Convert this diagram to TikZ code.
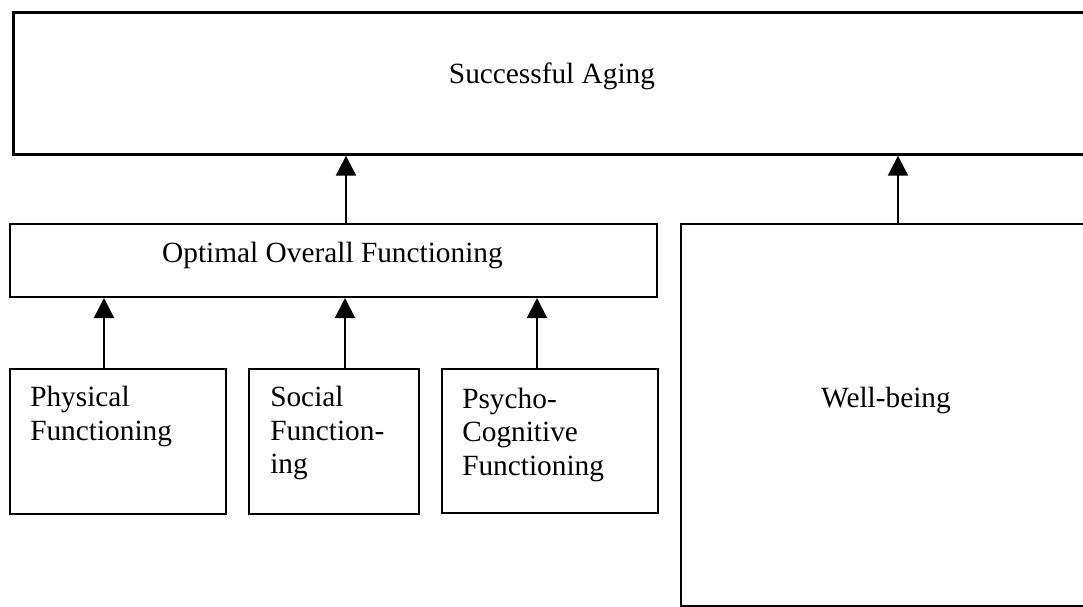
\documentclass[tikz,border=0pt]{standalone}
\usepackage{fontspec}
\setmainfont{Liberation Serif}
\usetikzlibrary{arrows.meta}
\begin{document}
\begin{tikzpicture}[x=0.75pt,y=-0.75pt,
  box/.style={draw=black,line width=1.5pt,anchor=north west,inner sep=0pt},
  bigbox/.style={box,line width=2pt},
  txt/.style={font=\fontsize{22}{25}\selectfont,inner sep=0pt},
  arr/.style={line width=1.5pt,-{Triangle[width=15pt,length=15pt]}}]
\useasboundingbox (0,0) rectangle (1083,607);
\clip (0,0) rectangle (1083,607);
% boxes
\node[bigbox,minimum width=810pt,minimum height=106.5pt] (top) at (12,11) {};
\node[box,minimum width=485.25pt,minimum height=54.75pt] (opt) at (9,223) {};
\node[box,minimum width=162pt,minimum height=108.75pt] (phys) at (9,368) {};
\node[box,minimum width=127.5pt,minimum height=108.75pt] (soc) at (248,368) {};
\node[box,minimum width=162pt,minimum height=108pt] (psy) at (441,368) {};
\node[box,minimum width=309pt,minimum height=286.5pt] (well) at (680,223) {};
% labels (multi-line labels are placed by the baseline of their last line)
\node[txt,anchor=base] (ttop) at (552,83) {Successful Aging};
\node[txt,anchor=base] (topt) at (332.5,262) {Optimal Overall Functioning};
\node[txt,anchor=base] (twell) at (886,407) {Well-being};
\node[txt,anchor=base west,align=left] (tphys) at (30,440.3) {Physical\\Functioning};
\node[txt,anchor=base west,align=left] (tsoc) at (270,473.6) {Social\\Function-\\ing};
\node[txt,anchor=base west,align=left] (tpsy) at (462,475) {Psycho-\\Cognitive\\Functioning};
% arrow columns
\coordinate (c1) at (104,0);
\coordinate (c2) at (345,0);
\coordinate (c3) at (537,0);
\coordinate (c4) at (346,0);
\coordinate (c5) at (898,0);
% connectors
\draw[arr] (phys.north -| c1) -- (opt.south -| c1);
\draw[arr] (soc.north -| c2) -- (opt.south -| c2);
\draw[arr] (psy.north -| c3) -- (opt.south -| c3);
\draw[arr] (opt.north -| c4) -- (top.south -| c4);
\draw[arr] (well.north -| c5) -- (top.south -| c5);
\end{tikzpicture}
\end{document}
